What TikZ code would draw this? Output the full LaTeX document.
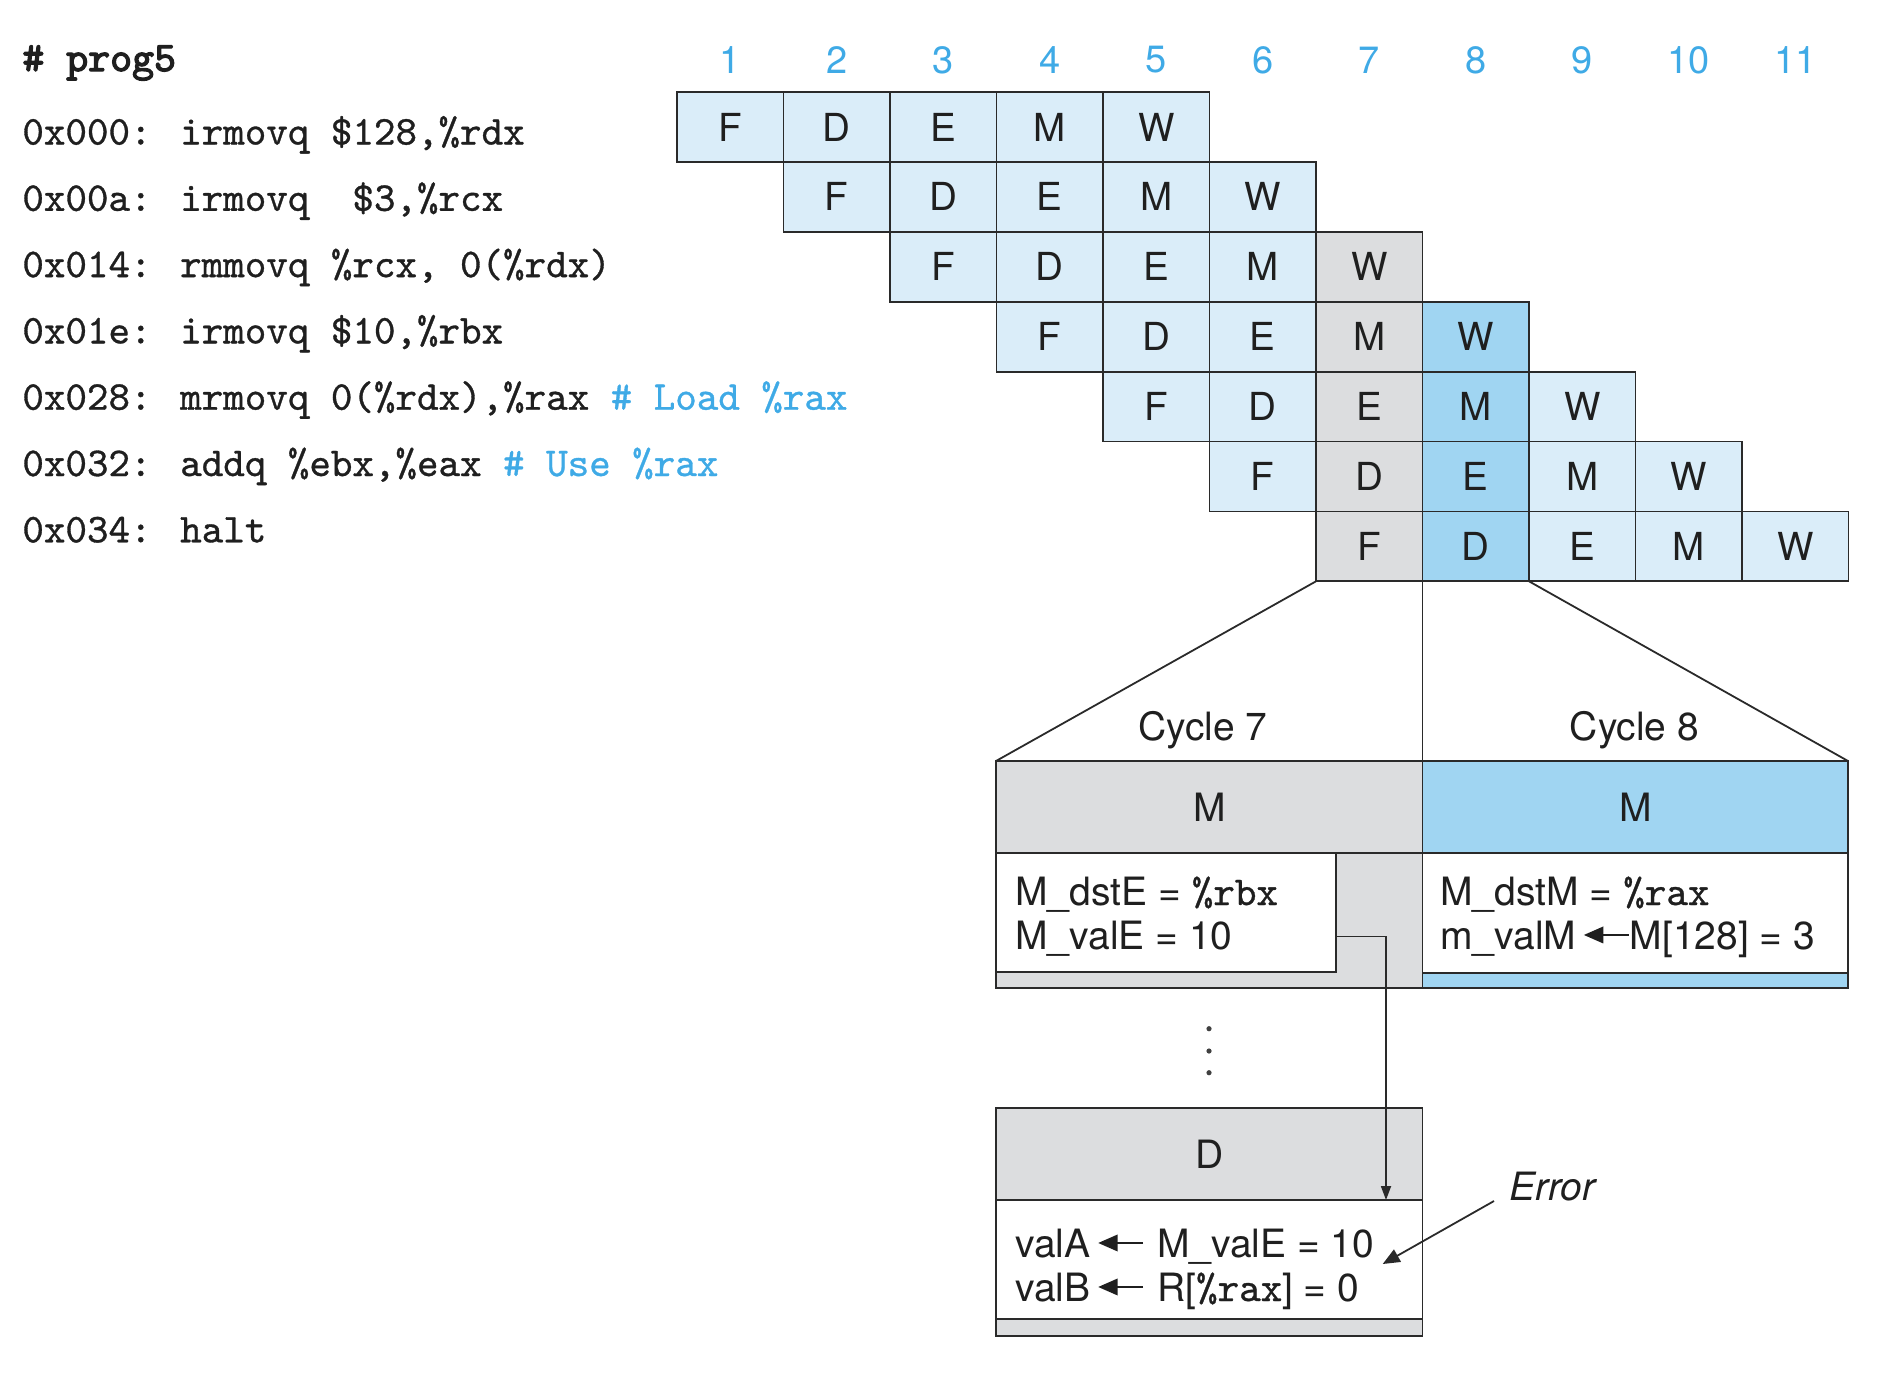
\documentclass[tikz,border=0pt]{standalone}
\usepackage{fontspec}
\setmainfont{TeX Gyre Heros}
\newfontfamily\codefam[FakeBold=0.8]{lmmono10-regular.otf}
\newfontfamily\codebold[FakeBold=3]{lmmono10-regular.otf}
\usetikzlibrary{arrows.meta}
\definecolor{lightcell}{HTML}{DAEDF9}
\definecolor{midcell}{HTML}{A0D5F2}
\definecolor{graycell}{HTML}{DCDDDF}
\definecolor{bluetxt}{HTML}{3FAAE6}
\definecolor{linec}{HTML}{2A2A2A}
\newcommand{\larr}{\tikz[baseline=-0.36em]\draw[line width=0.06em,-{Triangle[length=0.5em,width=0.42em]}] (1.15em,0)--(0,0);}
\newcommand{\codefont}{\codefam\fontsize{20.5}{24}\selectfont}
\newcommand{\rg}[1]{{\codefam\fontsize{20.5}{23}\selectfont #1}}
\begin{document}
\begin{tikzpicture}[x=0.5pt,y=-0.5pt,
  cell/.style={draw=linec,line width=0.9pt,minimum width=53.25pt,minimum height=34.95pt,inner sep=0pt,outer sep=0pt,font=\fontsize{19.3}{22}\selectfont,text=black!88},
  colnum/.style={text=bluetxt,font=\fontsize{19}{22}\selectfont,inner sep=0pt},
  code/.style={anchor=base west,inner sep=0pt,font=\codefont,text=black!88},
  box/.style={draw=linec,line width=0.9pt,inner sep=0pt,outer sep=0pt,anchor=north west},
  txt/.style={anchor=base west,inner sep=0pt,font=\fontsize{19.5}{23}\selectfont,text=black!88},
  lbl/.style={inner sep=0pt,font=\fontsize{19.5}{23}\selectfont,text=black!88},
  conn/.style={draw=linec,line width=0.9pt},
  dotn/.style={circle,fill=black!75,inner sep=0pt,minimum size=2.6pt}]
\useasboundingbox (0,0) rectangle (1878,1372);
% code listing
\node[code,font=\codebold\fontsize{20.9}{24}\selectfont] (p0) at (22,71) {\#\ prog5};
\node[code] (p1) at (22,144.5) {0x000: irmovq \$128,\%rdx};
\node[code] (p2) at (22,210.8) {0x00a: irmovq\ \ \$3,\%rcx};
\node[code] (p3) at (22,277.1) {0x014: rmmovq \%rcx, 0(\%rdx)};
\node[code] (p4) at (22,343.4) {0x01e: irmovq \$10,\%rbx};
\node[code] (p5) at (22,409.7) {0x028: mrmovq 0(\%rdx),\%rax {\color{bluetxt}\#\ Load \%rax}};
\node[code] (p6) at (22,476.0) {0x032: addq \%ebx,\%eax {\color{bluetxt}\#\ Use \%rax}};
\node[code] (p7) at (22,542.3) {0x034: halt};
% cycle numbers
\foreach \c in {1,...,11}
  \node[colnum] (n\c) at ({677+106.5*(\c-0.5)},60) {\c};
% pipeline cells
\foreach \r in {1,...,7} {
  \foreach \s [count=\k from 0] in {F,D,E,M,W} {
    \pgfmathtruncatemacro\c{\r+\k}
    \ifnum\c=7 \def\col{graycell}\else\ifnum\c=8 \def\col{midcell}\else\def\col{lightcell}\fi\fi
    \node[cell,fill=\col] (c\r-\c) at ({677+106.5*(\c-0.5)},{92+69.9*(\r-0.5)}) {\s};
  }
}
% Cycle 7 M box
\node[box,fill=graycell,minimum width=213.25pt,minimum height=113.5pt] (m7) at (996,761) {};
\node[box,fill=graycell,minimum width=213.25pt,minimum height=45.8pt] (m7h) at (996,761) {};
\node[box,fill=white,minimum width=170pt,minimum height=59.7pt] (m7w) at (996,852.6) {};
\node[lbl] (m7l) at (m7h.center) {M};
% Cycle 8 M box
\node[box,fill=midcell,minimum width=212.75pt,minimum height=113.5pt] (m8) at (1422.5,761) {};
\node[box,fill=midcell,minimum width=212.75pt,minimum height=45.8pt] (m8h) at (1422.5,761) {};
\node[box,fill=white,minimum width=212.75pt,minimum height=60pt] (m8w) at (1422.5,852.6) {};
\node[lbl] (m8l) at (m8h.center) {M};
% D box
\node[box,fill=graycell,minimum width=213.25pt,minimum height=113.9pt] (dd) at (996,1108) {};
\node[box,fill=graycell,minimum width=213.25pt,minimum height=46pt] (ddh) at (996,1108) {};
\node[box,fill=white,minimum width=213.25pt,minimum height=59.3pt] (ddw) at (996,1200) {};
\node[lbl] (ddl) at (ddh.center) {D};
% zoom lines
\draw[conn] (c7-7.south west) -- (m7.north west);
\draw[conn] (c7-8.south west) -- (m7.north east);
\draw[conn] (c7-8.south east) -- (m8.north east);
% cycle labels
\node[lbl] (cy7) at (1203,730) {Cycle 7};
\node[lbl] (cy8) at (1634.5,730) {Cycle 8};
% texts
\node[txt] (t1) at (1015,905) {M\_dstE = \rg{\%rbx}};
\node[txt] (t2) at (1015,949) {M\_valE = 10};
\node[txt] (t3) at (1440,905) {M\_dstM = \rg{\%rax}};
\node[txt] (t4) at (1440,949) {m\_valM\,\larr M[128] = 3};
\node[txt] (t5) at (1015,1257) {valA\,\larr\,\,M\_valE = 10};
\node[txt] (t6) at (1015,1301) {valB\,\larr\,\,R[\rg{\%rax}] = 0};
% dots
\node[dotn] (d1) at (1209,1028.7) {};
\node[dotn] (d2) at (1209,1051) {};
\node[dotn] (d3) at (1209,1072.7) {};
% forwarding arrow
\coordinate (bend) at (1386,936.5);
\draw[conn,-{Triangle[length=7pt,width=5pt]}] (m7w.east |- bend) -- (bend) -- (bend |- ddh.south);
% error label
\node[lbl,font=\itshape\fontsize{19.5}{23}\selectfont] (err) at (1552.5,1186.6) {Error};
\coordinate (errs) at (1494,1201);
\coordinate (errt) at (1382.7,1264);
\draw[conn,-{Triangle[length=8.5pt,width=7pt]}] (errs) -- (errt);
\end{tikzpicture}
\end{document}
